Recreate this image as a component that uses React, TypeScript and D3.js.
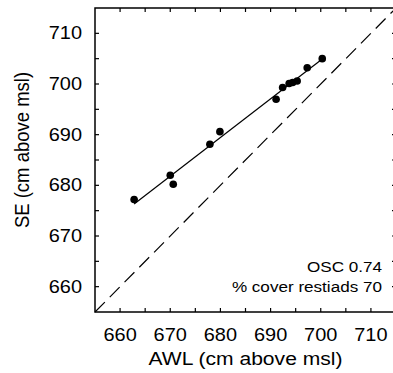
import React from "react";
import * as d3 from "d3";

const awl = [662.8, 670.0, 670.6, 677.9, 679.9, 691.1, 692.4, 693.7, 694.4, 695.3, 697.3, 700.3];
const se = [677.2, 682.0, 680.2, 688.1, 690.6, 697.0, 699.3, 700.1, 700.3, 700.6, 703.2, 705.0];
const tickValues = [660, 670, 680, 690, 700, 710];
const minorTicks = [660, 665, 670, 675, 680, 685, 690, 695, 700, 705, 710];
const domain = [655, 715];
const xTitle = "AWL (cm above msl)";
const yTitle = "SE (cm above msl)";
const notes = ["OSC 0.74", "% cover restiads 70"];

const W = 393;
const H = 373;
const M = { left: 95, right: 396, top: 8, bottom: 312 };
const SX = 1.14;
const FONT = "'Liberation Sans', Arial, Helvetica, sans-serif";

export default function App() {
  const x = d3.scaleLinear().domain(domain).range([M.left, M.right]);
  const y = d3.scaleLinear().domain(domain).range([M.bottom, M.top]);

  const pts = awl.map((v, i) => [v, se[i]] as [number, number]);
  const mx = d3.mean(awl)!;
  const my = d3.mean(se)!;
  const slope =
    d3.sum(pts, (p) => (p[0] - mx) * (p[1] - my)) / d3.sum(pts, (p) => (p[0] - mx) ** 2);
  const icpt = my - slope * mx;
  const [x0, x1] = d3.extent(awl) as [number, number];
  const line = d3.line<number>().x((v) => x(v)).y((v) => y(slope * v + icpt));
  const diag = d3.line<number>().x((v) => x(v)).y((v) => y(v));

  const tl = 4;
  return (
    <svg
      width={W}
      height={H}
      style={{ position: "absolute", left: 0, top: 0, background: "#fff" }}
      fontFamily={FONT}
    >
      <path d={diag(domain) || ""} stroke="#000" strokeWidth={1.2} strokeDasharray="14,7" fill="none" />
      <path d={line([x0, x1]) || ""} stroke="#000" strokeWidth={1.2} fill="none" />
      {pts.map((p, i) => (
        <circle key={i} cx={x(p[0])} cy={y(p[1])} r={3.8} fill="#000" />
      ))}
      <rect
        x={M.left}
        y={M.top}
        width={M.right - M.left}
        height={M.bottom - M.top}
        fill="none"
        stroke="#000"
        strokeWidth={1.5}
      />
      {minorTicks.map((t) => (
        <g key={t} stroke="#000" strokeWidth={1.2}>
          <line x1={x(t)} x2={x(t)} y1={M.bottom} y2={M.bottom - tl} />
          <line x1={x(t)} x2={x(t)} y1={M.top} y2={M.top + tl} />
          <line x1={M.left} x2={M.left + tl} y1={y(t)} y2={y(t)} />
          <line x1={M.right} x2={M.right - tl} y1={y(t)} y2={y(t)} />
        </g>
      ))}
      {tickValues.map((t) => (
        <text
          key={"x" + t}
          transform={`translate(${x(t)},341) scale(${SX},1)`}
          textAnchor="middle"
          fontSize={17.5}
          fill="#000"
        >
          {t}
        </text>
      ))}
      {tickValues.map((t) => (
        <text
          key={"y" + t}
          transform={`translate(82,${y(t) + 6}) scale(${SX},1)`}
          textAnchor="end"
          fontSize={17.5}
          fill="#000"
        >
          {t}
        </text>
      ))}
      <text
        transform={`translate(${(M.left + M.right) / 2},365) scale(${SX},1)`}
        textAnchor="middle"
        fontSize={18.5}
        fill="#000"
      >
        {xTitle}
      </text>
      <text
        transform={`translate(29,150) scale(${SX},1) rotate(-90)`}
        textAnchor="middle"
        fontSize={18.5}
        fill="#000"
      >
        {yTitle}
      </text>
      {notes.map((n, i) => (
        <text
          key={n}
          transform={`translate(382,${272 + i * 20}) scale(${SX},1)`}
          textAnchor="end"
          fontSize={15}
          fill="#000"
        >
          {n}
        </text>
      ))}
    </svg>
  );
}
